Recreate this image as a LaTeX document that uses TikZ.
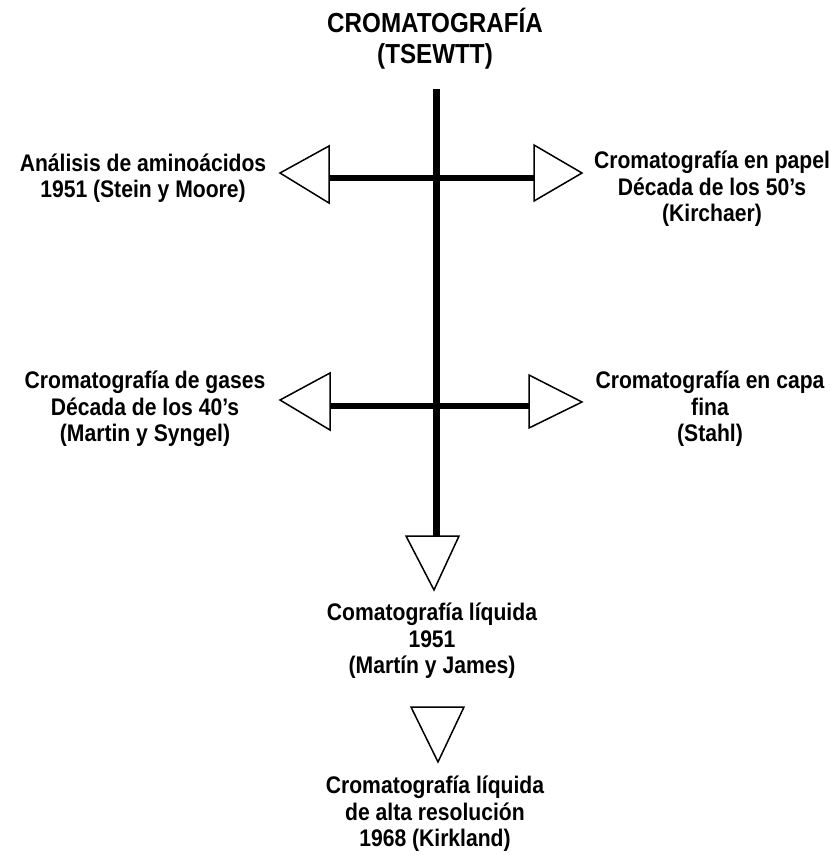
\documentclass[tikz,border=0pt]{standalone}
\usepackage{fontspec}
\setmainfont{Liberation Sans}[FakeStretch=0.88]
\begin{document}
\begin{tikzpicture}[x=1pt,y=-1pt,
  label/.style={font=\bfseries\fontsize{24}{26.5}\selectfont, align=center, inner sep=0pt},
  titletext/.style={font=\bfseries\fontsize{27.5}{31}\selectfont, align=center, inner sep=0pt},
  trunk/.style={line width=7pt},
  branch/.style={line width=6pt},
  head/.style={draw, line width=1.5pt, fill=white, line join=miter}]
\useasboundingbox (0,0) rectangle (839,855);

% title
\node[titletext] (title) at (435,39) {CROMATOGRAFÍA\\(TSEWTT)};

% hub points on the main axis
\coordinate (top) at (436,89);
\coordinate (bot) at (436,536);
\coordinate (aL) at (329,178);
\coordinate (aR) at (534,178);
\coordinate (bL) at (330,406);
\coordinate (bR) at (529,406);

% main axis and branches
\draw[trunk] (top) -- (bot);
\draw[branch] (aL) -- (aR);
\draw[branch] (bL) -- (bR);

% arrow heads
\draw[head] (329,146) -- (280,173) -- (329,203) -- cycle;
\draw[head] (534,145) -- (582,173) -- (534,201) -- cycle;
\draw[head] (330,373) -- (280,400) -- (330,430) -- cycle;
\draw[head] (529,375) -- (582,402) -- (529,428) -- cycle;
\draw[head] (406,536) -- (434,590) -- (459,536) -- cycle;
\draw[head] (411,707) -- (438,762) -- (464,707) -- cycle;

% labels
\node[label] (amino) at (143,178) {Análisis de aminoácidos\\1951 (Stein y Moore)};
\node[label] (papel) at (712,189) {Cromatografía en papel\\Década de los 50's\\(Kirchaer)};
\node[label] (gases) at (145,409) {Cromatografía de gases\\Década de los 40's\\(Martin y Syngel)};
\node[label] (capa) at (710,409) {Cromatografía en capa\\fina\\(Stahl)};
\node[label] (liq) at (432,641) {Comatografía líquida\\1951\\(Martín y James)};
\node[label] (hplc) at (435,814) {Cromatografía líquida\\de alta resolución\\1968 (Kirkland)};
\end{tikzpicture}
\end{document}
